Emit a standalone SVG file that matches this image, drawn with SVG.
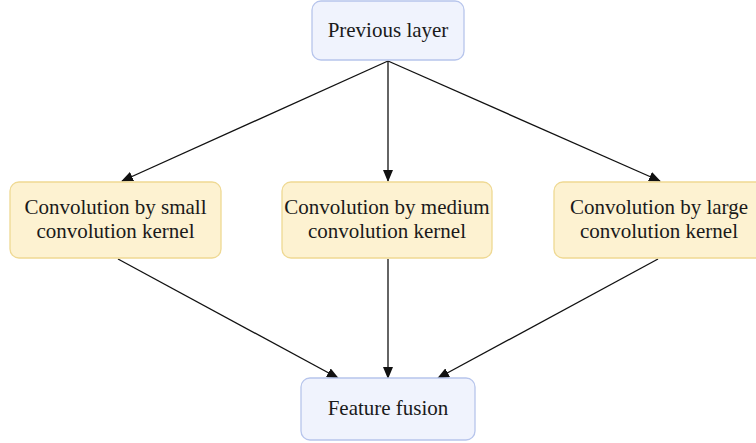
<svg xmlns="http://www.w3.org/2000/svg" width="756" height="443" viewBox="0 0 756 443">
<defs>
<marker id="ah" markerWidth="12" markerHeight="10" refX="11" refY="5" orient="auto" markerUnits="userSpaceOnUse">
<path d="M0,0 L12,5 L0,10 Z" fill="#111"/>
</marker>
</defs>
<rect width="756" height="443" fill="#fff"/>
<g id="connectors" stroke="#111" stroke-width="1.3" fill="none" marker-end="url(#ah)">
<line x1="388" y1="61" x2="122" y2="181"/>
<line x1="388" y1="61" x2="388" y2="181"/>
<line x1="388" y1="61" x2="660" y2="181"/>
<line x1="118" y1="259" x2="338" y2="378"/>
<line x1="388" y1="259" x2="388" y2="378"/>
<line x1="658" y1="259" x2="438" y2="378"/>
</g>
<g id="previous">
<rect fill="#f0f3fd" stroke="#b7c5ec" stroke-width="1.3" x="312" y="1" width="152" height="59" rx="9"/>
<text font-family="Liberation Serif" font-size="21" text-anchor="middle" fill="#1a1a1a" x="388" y="37">Previous layer</text>
</g>
<g id="small">
<rect fill="#fdf2d1" stroke="#efd993" stroke-width="1.3" x="10" y="182" width="211" height="76" rx="9"/>
<text font-family="Liberation Serif" font-size="21" text-anchor="middle" fill="#1a1a1a" x="115.5" y="214">Convolution by small</text>
<text font-family="Liberation Serif" font-size="21" text-anchor="middle" fill="#1a1a1a" x="115.5" y="238">convolution kernel</text>
</g>
<g id="medium">
<rect fill="#fdf2d1" stroke="#efd993" stroke-width="1.3" x="282" y="182" width="210" height="76" rx="9"/>
<text font-family="Liberation Serif" font-size="21" text-anchor="middle" fill="#1a1a1a" x="387" y="214">Convolution by medium</text>
<text font-family="Liberation Serif" font-size="21" text-anchor="middle" fill="#1a1a1a" x="387" y="238">convolution kernel</text>
</g>
<g id="large">
<rect fill="#fdf2d1" stroke="#efd993" stroke-width="1.3" x="554" y="182" width="211" height="76" rx="9"/>
<text font-family="Liberation Serif" font-size="21" text-anchor="middle" fill="#1a1a1a" x="659" y="214">Convolution by large</text>
<text font-family="Liberation Serif" font-size="21" text-anchor="middle" fill="#1a1a1a" x="659" y="238">convolution kernel</text>
</g>
<g id="fusion">
<rect fill="#f0f3fd" stroke="#b7c5ec" stroke-width="1.3" x="301" y="378" width="174" height="62" rx="9"/>
<text font-family="Liberation Serif" font-size="21" text-anchor="middle" fill="#1a1a1a" x="388" y="415">Feature fusion</text>
</g>
</svg>
